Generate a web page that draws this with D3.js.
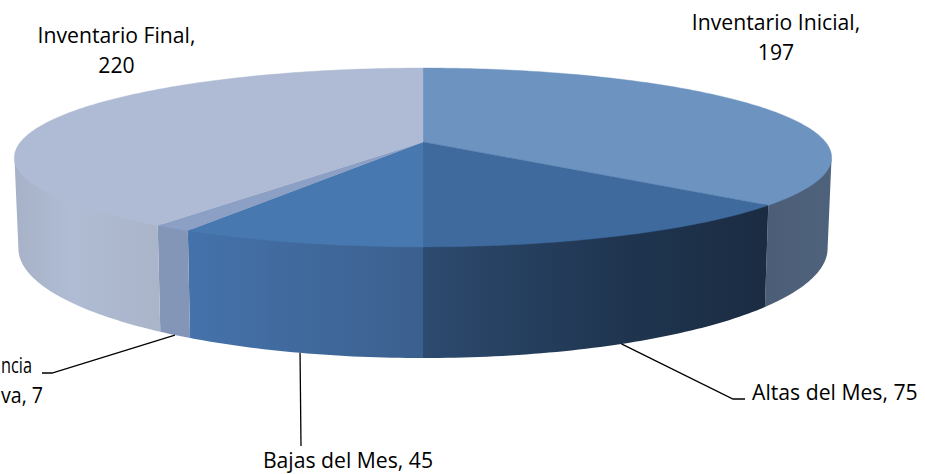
<!DOCTYPE html>
<html>
<head>
<meta charset="utf-8">
<script src="https://cdn.jsdelivr.net/npm/d3@7/dist/d3.min.js"></script>
<style>
  html, body { margin: 0; padding: 0; background: #fff; overflow: hidden; }
  svg { display: block; }
  text { font-family: "Open Sans", Lato, sans-serif; font-size: 21.2px; fill: #000; }
</style>
</head>
<body>
<div id="chart"></div>
<script>
// Chart data (clockwise from the top of the pie)
const categories = ["Inventario Inicial", "Altas del Mes", "Bajas del Mes", "Transferencia", "Inventario Final"];
const values = [197, 75, 45, 7, 220];

// Label text, one array of lines per slice. The fourth label is cut off by the page edge
const labelLines = [
  ["Inventario Inicial,", "197"],
  ["Altas del Mes, 75"],
  ["Bajas del Mes, 45"],
  ["ncia", "va, 7"],
  ["Inventario Final,", "220"]
];

// Colours
const topColors = ["#6d93c0", "#3f6a9e", "#4878b0", "#8c9fc4", "#afbbd4"];
const wallStops = [
  [[765, "#4c5e77"], [831, "#4f627c"]],
  [[423, "#2d4a6f"], [620, "#1f3550"], [768, "#1b2c42"]],
  [[187, "#4572ab"], [423, "#3b608e"]],
  [[157, "#8496b8"], [187, "#8496b8"]],
  [[15, "#a7b2c8"], [70, "#b0bcd3"], [157, "#aab5ca"]]
];

const width = 925;
const height = 474;

// Perspective of the pie: w shrinks toward the viewer
const cx = 423;
const persp = -0.173;
const topRim = { r: 402.5, a: 62.2, b: 142 };
const bottomRim = { r: 398.5, a: 66.7, b: 229.4 };
// walls start a little under the top face so no white seam shows
const wallRim = { r: 402.5, a: 62.2, b: 140 };

function project(angle, rim) {
  const u = Math.sin(angle);
  const v = -Math.cos(angle);
  const w = 1 + persp * v;
  return [cx + rim.r * u / w, (rim.a * v + rim.b) / w];
}

const svg = d3.select("#chart")
  .append("svg")
  .attr("width", width)
  .attr("height", height);

const slices = d3.pie().sort(null)(values);
const line = d3.line();

function rimPoints(a0, a1, rim) {
  const n = Math.max(8, Math.ceil((a1 - a0) * 60));
  return d3.range(n + 1).map(i => project(a0 + (a1 - a0) * i / n, rim));
}

// Only the front of the wall shows, between the two widest points of the rim
const frontStart = Math.acos(persp);
const frontEnd = 2 * Math.PI - frontStart;

function wallPath(d) {
  const a0 = Math.max(d.startAngle, frontStart);
  const a1 = Math.min(d.endAngle, frontEnd);
  return line(rimPoints(a0, a1, wallRim).concat(rimPoints(a0, a1, bottomRim).reverse())) + "Z";
}

// Wall gradients run left to right across the page
const defs = svg.append("defs");
wallStops.forEach((stops, i) => {
  const x0 = stops[0][0];
  const x1 = stops[stops.length - 1][0];
  const grad = defs.append("linearGradient")
    .attr("id", "wall" + i)
    .attr("gradientUnits", "userSpaceOnUse")
    .attr("x1", x0).attr("x2", x1)
    .attr("y1", 0).attr("y2", 0);
  stops.forEach(s => {
    grad.append("stop")
      .attr("offset", (s[0] - x0) / (x1 - x0))
      .attr("stop-color", s[1]);
  });
});

svg.append("g").selectAll("path")
  .data(slices)
  .join("path")
  .attr("d", wallPath)
  .attr("fill", d => `url(#wall${d.index})`);

svg.append("g").selectAll("path")
  .data(slices)
  .join("path")
  .attr("d", d => line([[cx, topRim.b]].concat(rimPoints(d.startAngle, d.endAngle, topRim))) + "Z")
  .attr("fill", d => topColors[d.index])
  .attr("stroke", d => topColors[d.index])
  .attr("stroke-width", 0.4);

// Leader lines start on the lower rim at the middle of the slice
const leaderEnds = [
  null,
  [[733, 399], [745, 399]],
  [[301, 446]],
  [[52, 373], [42, 373]],
  null
];

svg.append("g").selectAll("path")
  .data(slices.filter(d => leaderEnds[d.index]))
  .join("path")
  .attr("d", d => line([project((d.startAngle + d.endAngle) / 2, bottomRim)].concat(leaderEnds[d.index])))
  .attr("fill", "none")
  .attr("stroke", "#000")
  .attr("stroke-width", 1.3);

// Labels
const labelPos = [
  { x: 776, y: 30, anchor: "middle" },
  { x: 752, y: 400, anchor: "start" },
  { x: 348, y: 468, anchor: "middle" },
  { x: 1, y: 373, anchor: "start" },
  { x: 116.5, y: 43, anchor: "middle" }
];

// the cut-off label is squeezed to the width it has at the page edge
const squeezed = [31, 42];

const lineHeight = 30;
labelLines.forEach((lines, i) => {
  const p = labelPos[i];
  lines.forEach((t, j) => {
    const label = svg.append("text")
      .attr("x", p.x)
      .attr("y", p.y + j * lineHeight)
      .attr("text-anchor", p.anchor)
      .text(t);
    if (i === 3) {
      label.attr("textLength", squeezed[j]).attr("lengthAdjust", "spacingAndGlyphs");
    }
  });
});
</script>
</body>
</html>
